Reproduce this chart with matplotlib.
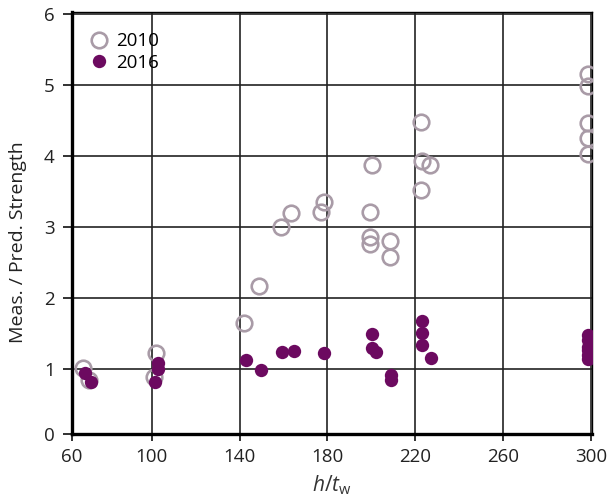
import matplotlib
matplotlib.use("Agg")
import matplotlib.pyplot as plt

plt.rcParams["font.family"] = ["Open Sans", "DejaVu Sans"]
plt.rcParams["mathtext.fontset"] = "custom"
plt.rcParams["mathtext.it"] = "Open Sans:italic"
plt.rcParams["mathtext.rm"] = "Open Sans"

# 2010 data (open circles)
x_2010 = [68.6, 71.6, 102.1, 100.9, 142.2, 149.0, 158.9, 163.6, 177.0, 178.2,
          199.5, 199.5, 199.5, 200.4, 208.6, 208.3, 222.4, 223.1, 226.5, 222.7,
          298.5, 298.5, 298.5, 298.5, 298.5]
y_2010 = [1.02, 0.85, 1.23, 0.89, 1.65, 2.17, 3.00, 3.20, 3.21, 3.35,
          2.86, 2.76, 3.21, 3.87, 2.80, 2.58, 4.48, 3.93, 3.87, 3.52,
          5.16, 4.98, 4.47, 4.26, 4.03]

# 2016 data (filled)
x_2016 = [69.6, 72.2, 102.7, 102.7, 101.5, 142.8, 149.7, 159.5, 164.7, 178.5,
          200.4, 200.3, 202.2, 208.9, 208.9, 223.2, 223.2, 223.2, 227.2,
          298.7, 298.7, 298.7, 298.7, 298.7, 298.7]
y_2016 = [0.94, 0.82, 1.08, 1.00, 0.82, 1.13, 0.98, 1.24, 1.25, 1.22,
          1.49, 1.29, 1.24, 0.92, 0.85, 1.67, 1.50, 1.34, 1.16,
          1.48, 1.41, 1.31, 1.27, 1.20, 1.14]

x_ticks = [63.7, 100, 140, 180, 220, 260, 300]
x_labels = ["60", "100", "140", "180", "220", "260", "300"]
y_ticks = [0.077, 1, 2, 3, 4, 5, 6]
y_labels = ["0", "1", "2", "3", "4", "5", "6"]

fig = plt.figure(figsize=(6.08, 4.99), dpi=100)
ax = fig.add_axes([0.1184, 0.1293, 0.8553, 0.8467])

ax.plot(x_2010, y_2010, "o", markersize=11.2, markerfacecolor="none",
        markeredgecolor="#a99ba7", markeredgewidth=1.9, label="2010", zorder=3)
ax.plot(x_2016, y_2016, "o", markersize=9.6, markerfacecolor="#6c0a60",
        markeredgecolor="#6c0a60", markeredgewidth=0, label="2016", zorder=4)

ax.set_xlim(63.7, 300.4)
ax.set_ylim(0.077, 6.03)
ax.set_xticks(x_ticks)
ax.set_xticklabels(x_labels)
ax.set_yticks(y_ticks)
ax.set_yticklabels(y_labels)

ax.grid(True, color="#222222", linewidth=1.2)
ax.set_axisbelow(True)

for side in ["top", "right"]:
    ax.spines[side].set_linewidth(1.0)
for side in ["left", "bottom"]:
    ax.spines[side].set_linewidth(2.4)

ax.tick_params(axis="both", labelsize=13.5, direction="out", width=1.3,
               color="#222222", labelcolor="#222222")
ax.tick_params(axis="y", length=6.5, pad=6)
ax.tick_params(axis="x", length=5, pad=5)

ax.set_xlabel("$h/t_\\mathrm{w}$", fontsize=15, color="#333333", va="top")
ax.xaxis.set_label_coords(0.5, -0.093)
ax.set_ylabel("Meas. / Pred. Strength", fontsize=14, color="#222222")
ax.yaxis.set_label_coords(-0.087, 0.456)

leg = ax.legend(loc="upper left", frameon=False, fontsize=13.5, handletextpad=0.15,
                borderaxespad=0.3, labelspacing=0.2, handlelength=1.5,
                bbox_to_anchor=(0.0, 0.983))

fig.savefig("out.png", dpi=100)
